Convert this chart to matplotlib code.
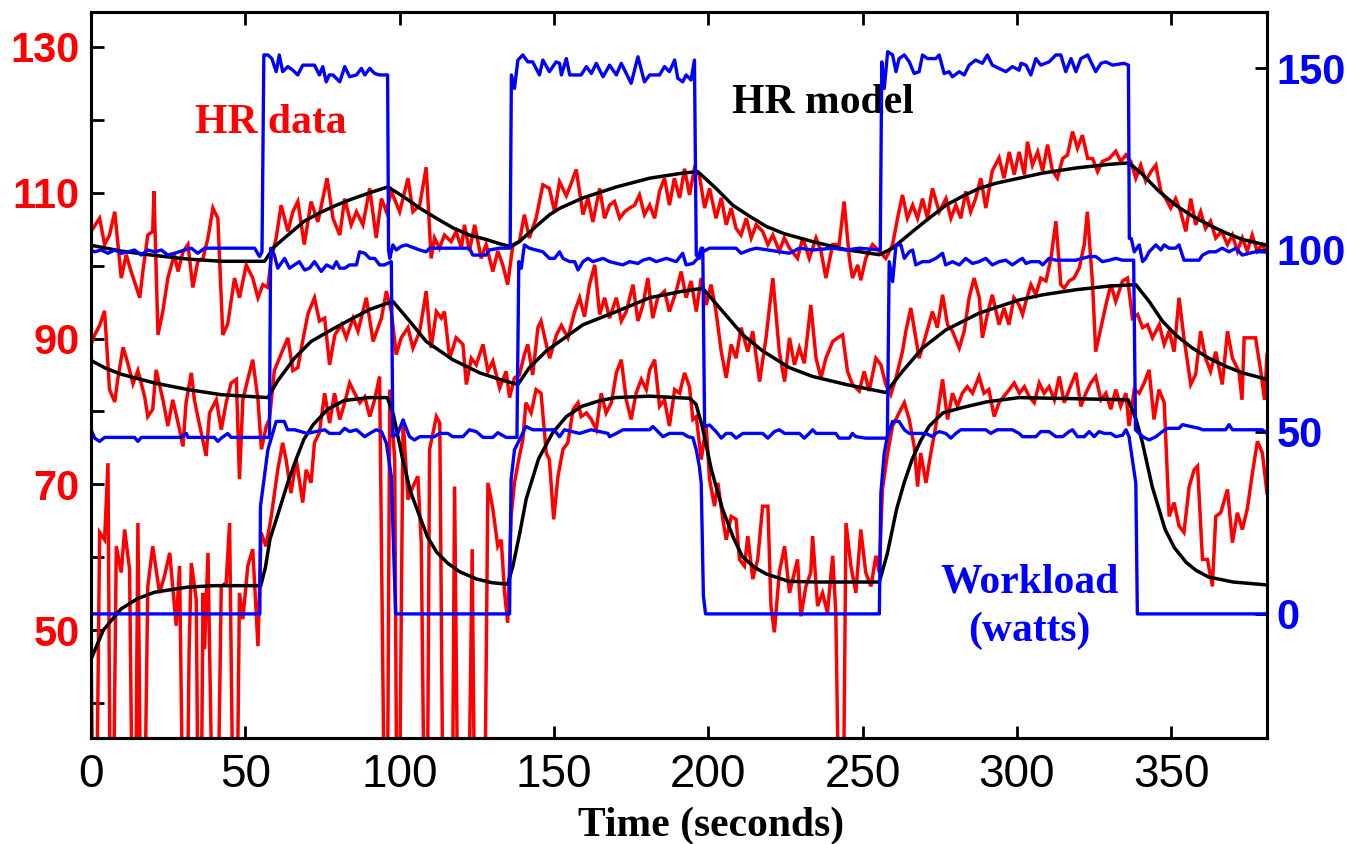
import numpy as np
import matplotlib.pyplot as plt

plt.rcParams['font.family'] = ['Liberation Sans', 'DejaVu Sans']

# ---- HR data (bpm), (time s, value) ----
hr_top = [(0, 104.7), (2.8, 106.5), (4.4, 102.9), (6, 104.2), (7.7, 107.4), (9.8, 98.3), (11.4, 101.5),
          (13, 99.2), (15.8, 95.6), (16.8, 99.2), (18.4, 104.2), (20, 104.7), (20.4, 110.2), (21.7, 90.5),
          (23.3, 93.8), (24.9, 98.3), (27, 101.5), (28.2, 99.2), (29.8, 101.9), (31.4, 102.9), (33, 97),
          (34.6, 100.6), (36.3, 101), (37.9, 103.8), (39.5, 107.9), (41.1, 106.5), (42.7, 90.5), (44.3, 92),
          (46.5, 98.3), (48.1, 95.6), (50.3, 100.1), (52.4, 98.3), (54.1, 95.6), (55.7, 97.4), (57.3, 97),
          (58.4, 101), (60, 103.8), (61.6, 108.3), (63.8, 104.7), (65.4, 107.4), (67, 108.8), (69.1, 102.9),
          (71.3, 108.8), (73.5, 106), (76.5, 112), (78.4, 106.5), (80.6, 104.2), (82.2, 109.2), (84.3, 105.6),
          (86, 107.4), (88.1, 105.6), (90.3, 110.6), (92.4, 103.8), (94.1, 109.2), (95.7, 107.4), (97.3, 110.2),
          (100, 107.4), (102.7, 112), (104.3, 107.4), (106.5, 108.3), (108.6, 113.5), (110.2, 101),
          (111.3, 103.8), (112.9, 102.4), (114.5, 104.2), (116.7, 103.3), (118.3, 104.7), (120, 102.4),
          (121, 105.6), (122.6, 102), (124.3, 105.6), (126.4, 101), (128, 102.9), (130.2, 99.2), (131.8, 102),
          (133.4, 100.1), (135, 97.4), (136.7, 102.9), (138.8, 103.3), (140.4, 107), (142, 103.8),
          (144.2, 106.5), (146.4, 111.1), (148.5, 110.6), (150.2, 107.4), (151.8, 111.5), (154, 109.6),
          (155.5, 111.2), (157.2, 113.2), (159.4, 107), (161, 109.3), (162.6, 106), (164.8, 110.6),
          (166.4, 106.5), (168, 108.3), (169.6, 108.8), (171.3, 106.5), (172.9, 107.4), (174.5, 107.9),
          (176.1, 108.3), (177.7, 109.7), (179.3, 107), (181, 108.3), (182.6, 106.5), (184.2, 110.2),
          (185.8, 112), (187.4, 108.3), (189, 112), (190.7, 109.3), (192.3, 113.3), (193.9, 109.7),
          (195.5, 113.3), (197.1, 112.4), (198.8, 107.9), (200.4, 110.6), (202.5, 106.5), (204.2, 109.3),
          (205.8, 105.6), (207.4, 107.9), (209, 105.1), (210.6, 104.2), (212.3, 106.5), (213.9, 103.8),
          (215.5, 105.6), (217.6, 104.7), (219.3, 102.9), (220.9, 104.2), (223, 102), (224.6, 103.8),
          (226.3, 102.4), (228.9, 101), (230.6, 103.8), (232.7, 101), (234.9, 103.8), (236.5, 102),
          (238.1, 98.3), (240.3, 102.9), (242.4, 102.9), (244, 108.8), (245.7, 101), (246.7, 98.3),
          (248.4, 100.1), (249.4, 98), (251, 101), (253.2, 102.9), (255.4, 102), (257.5, 101), (259.7, 102.9),
          (261.3, 106.5), (262.9, 109.7), (264.5, 106.5), (266.2, 108.3), (267.8, 106.5), (269.4, 109.2),
          (271, 106.5), (272.6, 110.6), (274.8, 107.4), (277, 109.2), (278.6, 106.5), (280.2, 108.3),
          (281.8, 106.5), (283.4, 110.2), (285, 107.4), (286.6, 109.2), (288.3, 112), (289.9, 107.9),
          (292, 113), (294.2, 114.8), (295.8, 112), (297.5, 115.6), (299.1, 112.5), (300.7, 115.6),
          (302.4, 112.5), (303.4, 117), (305, 113.8), (306.7, 115.6), (308.3, 113), (309.9, 116.6),
          (311.5, 113), (313.1, 112), (314.8, 114.7), (316.4, 115.2), (318, 118.4), (319.6, 116.1),
          (321.2, 117.9), (322.9, 114.7), (324.5, 114.7), (326.1, 112.9), (327.7, 114.3), (329.9, 114.7),
          (332, 115.7), (333.6, 114.3), (335.3, 115.2), (336.9, 114.3), (338.5, 112), (340.1, 113.8),
          (341.7, 111.6), (343.4, 112.9), (345, 113.8), (346.6, 110.2), (348.2, 109.2), (349.8, 107.9),
          (351.4, 109.2), (353, 107.4), (354.7, 104.7), (356.3, 109.2), (357.9, 105.6), (359.5, 107.4),
          (361.1, 105.1), (362.7, 106.1), (364.4, 103.8), (366.3, 104.7), (368.2, 102.9), (369.8, 104.2),
          (371.4, 102), (373, 103.8), (374.6, 102), (376.2, 104.2), (377.8, 102), (379.4, 102.9), (381, 101.7)]

hr_mid = [(0, 89.2), (1.2, 90.5), (2.8, 91.8), (4.4, 93.8), (6, 83), (7.7, 81.3), (8.7, 84.5), (10.4, 88.8),
          (12, 86.5), (13.6, 83.8), (15.2, 85.6), (17.4, 82), (18.4, 79.3), (20, 80.3), (21.1, 85.7),
          (23.3, 81.6), (24.9, 78), (26.5, 81.6), (28.7, 77.5), (29.8, 75.2), (30.8, 81.2), (32.5, 85.3),
          (33.5, 81.6), (34.6, 79.3), (37.3, 73.9), (38.4, 79.8), (40.6, 81.6), (42.2, 77.5), (43.8, 81.2),
          (45.4, 83.9), (47.1, 84.4), (48.1, 70.7), (49.2, 81.6), (50.8, 84.4), (52.4, 87.1), (54.1, 81.6),
          (55.2, 74.8), (56.8, 78), (57.8, 78.9), (59.4, 85.6), (61.6, 87.9), (63.8, 90.1), (65.4, 85.6),
          (67, 86), (68.6, 89.7), (70.3, 93.4), (72.4, 95.6), (74, 92.4), (75.7, 92.8), (77.3, 86.4),
          (79, 90.5), (81.1, 91.9), (82.7, 90.1), (84.9, 92.8), (86.5, 91), (89.2, 95.6), (91.4, 89.6),
          (93, 91.5), (94.1, 92.8), (95.7, 96.5), (97.3, 93.7), (98.9, 87.8), (100.5, 90.1), (102.7, 91.5),
          (104.3, 88.7), (106.5, 91), (108.6, 96.5), (110.2, 88.7), (111.9, 93.7), (113.5, 92.8),
          (114.5, 93.7), (116.2, 87.3), (118.3, 90.1), (120.5, 89.2), (121.6, 83.7), (123.2, 87.3),
          (124.8, 86.4), (127, 89.2), (128.6, 85.5), (130.2, 86.9), (132.4, 83.2), (134.5, 85.5),
          (135.6, 81.9), (137.2, 84.6), (138.8, 85), (140.4, 87.8), (141.5, 89.2), (143.1, 85), (144.8, 91.5),
          (145.8, 92.4), (147.5, 89.2), (148.6, 87.3), (150.8, 90.5), (152.4, 91.8), (154.5, 90.1),
          (156.7, 93.7), (158.3, 95.6), (159.9, 93), (161.5, 97.4), (163.2, 100.1), (164.8, 93.3),
          (166.4, 95.6), (168, 92.8), (170.2, 95.6), (171.8, 92.4), (173.4, 93.7), (175.6, 97.4),
          (177.2, 92.4), (178.8, 94.6), (180.4, 98.3), (182, 92.8), (183.6, 95.6), (185.8, 96.5),
          (187.4, 93.7), (189.6, 96.5), (191.2, 99.2), (192.8, 95.6), (194.4, 97.9), (196.1, 93.7),
          (197.7, 98.3), (199.3, 94.6), (200.9, 97.4), (202.5, 93.7), (204.2, 88.2), (205.8, 84.6),
          (207.4, 89.2), (209, 87.3), (210.6, 91.5), (212.8, 88.2), (214.4, 91), (216.6, 84.1), (218.7, 90.1),
          (220.9, 98.3), (223, 88.2), (224.7, 84.1), (226.3, 90.1), (227.9, 86.4), (229.5, 88.7),
          (231.1, 86.6), (233.2, 94.6), (234.9, 87.3), (236.5, 84.6), (238.1, 87.3), (240.3, 89.6),
          (241.9, 90.1), (243.5, 90.5), (245.1, 85.5), (246.7, 83.7), (248.9, 82.8), (250.5, 85.5),
          (252.1, 82.8), (254.3, 87.3), (255.9, 86.4), (257.5, 83.7), (259.1, 82.3), (260.8, 84.6),
          (262.9, 88.2), (264, 91), (265.6, 94.2), (267.2, 90.1), (268.3, 87.3), (270.5, 90.5), (272.6, 93.7),
          (274.2, 91.5), (275.9, 96), (277.5, 91.9), (279.1, 91), (281.3, 88.7), (282.9, 91), (284.5, 95.6),
          (286.1, 98.3), (287.8, 95.6), (288.8, 90.1), (290.4, 93.3), (292, 96), (294.2, 91.9), (295.8, 94.2),
          (297.4, 91.9), (299, 95.6), (300.7, 94.6), (301.8, 93.3), (302.9, 95.1), (304.5, 97.4), (306.1, 96),
          (307.7, 98.3), (309.4, 97.9), (311, 101), (312.6, 106.1), (314.2, 97.4), (315.3, 96.9),
          (316.9, 97.9), (318.5, 98.3), (320.2, 99.7), (321.8, 102.9), (322.8, 107.4), (324.5, 97.4),
          (325.5, 88.2), (327.2, 91.5), (328.8, 94.6), (330.4, 97.4), (332, 95.1), (334.2, 97.9),
          (335.8, 98.3), (337.4, 92.8), (339.1, 93.3), (340.7, 91.5), (342.3, 91.9), (343.9, 90.1),
          (346.1, 91.9), (347.7, 89.2), (349.3, 91), (350.9, 88.2), (352.5, 95.6), (354.1, 90.1),
          (356.3, 83.7), (357.9, 85.1), (359.5, 91), (361.1, 87.3), (362.7, 85.5), (364.4, 88.2),
          (366.5, 83.7), (368.2, 91), (369.8, 87.3), (371.9, 85.5), (372.9, 81.6), (373.6, 90.1),
          (375.7, 90.1), (377.3, 90.1), (379, 85.5), (380.2, 81.6), (381, 87.8)]

hr_bot = [(0, 48.7), (1.2, 0), (2.8, 63.4), (4.4, 62.4), (5.5, 72.9), (6.6, 0), (8.2, 61.5), (9.8, 57.9),
          (10.9, 63.8), (12.5, 58.3), (14, 0), (15.2, 64.7), (16.6, 0), (18.4, 56), (20, 61.5), (22.2, 55.1),
          (23.8, 57.4), (25.5, 60.6), (27.6, 50.6), (28.7, 58.8), (30.5, 0), (31.8, 47.4), (32.5, 59.2),
          (34.1, 54.2), (35.2, 0), (36.3, 55.1), (36.8, 47.4), (37.9, 60.6), (40.3, 0), (42.2, 56),
          (43.8, 56.5), (44.9, 64.7), (46.7, 0), (48.1, 55.1), (49.2, 51.5), (50.8, 58.8), (52.4, 61.1),
          (54.1, 47.8), (55.1, 63.4), (56.7, 61.5), (58.4, 65.6), (60.5, 72), (62.1, 75.7), (63.2, 73.4),
          (64.8, 68.8), (66.5, 73.4), (68.6, 67.5), (69.7, 72), (71.3, 70.2), (72.4, 75.7), (74, 77.1),
          (75.7, 82.5), (77.3, 78.4), (78.9, 82.5), (80.6, 78.9), (82.2, 81.2), (83.8, 83.9), (85.4, 82.5),
          (87.1, 81.2), (88.7, 82), (90.3, 79.3), (91.9, 81.6), (93.5, 84.8), (95.7, 0), (96.8, 83),
          (98.4, 73.4), (99.4, 0), (101.1, 78.9), (102.7, 67.9), (104.3, 69.7), (105.9, 71.1), (107, 62),
          (108.6, 0), (109.7, 74.8), (111.9, 79.3), (113, 78.4), (114.5, 0), (116.7, 0), (117.8, 69.7),
          (119.4, 0), (121.6, 0), (123.5, 61.1), (124.8, 0), (127, 0), (128.6, 70.2), (130.2, 66.6),
          (131.8, 61.5), (132.9, 62.4), (134, 55.1), (135, 51), (136.1, 65.6), (137.2, 70.2), (138.8, 73.9),
          (139.9, 76.1), (140.9, 81.2), (142.6, 79.8), (144.2, 83), (145.8, 82.5), (147.5, 74.3),
          (148.5, 73.4), (149.9, 65.2), (151.3, 71.1), (152.9, 74.8), (154.5, 75.7), (156.2, 80.3),
          (157.8, 81.2), (158.8, 79.3), (160.5, 79.8), (162.1, 78.9), (163.7, 77.5), (165.3, 82.5),
          (166.9, 79.8), (168.6, 81.2), (170.2, 85.3), (171.8, 87.1), (173.4, 81.6), (175, 78.9),
          (176.6, 82.5), (178.3, 84.4), (179.9, 83), (181, 85.7), (182.6, 87.1), (184.2, 80.7), (185.8, 81.6),
          (187.4, 78), (189.1, 83), (190.7, 82.5), (192.3, 85.3), (193.9, 83.4), (195, 78.9), (196.1, 79.3),
          (197.7, 73.4), (199.3, 78), (200.4, 70.7), (202, 67), (203.1, 70.2), (204.7, 65.2), (205.8, 62.4),
          (207.4, 65.6), (209, 65.2), (210.1, 59.7), (211.7, 58.8), (212.8, 62.9), (214.4, 57), (216, 59.7),
          (217.6, 67), (219.3, 67), (220.3, 53.3), (221.4, 49.7), (223, 57.9), (224.7, 61.5), (226.3, 55.1),
          (228.9, 59.7), (230, 51.9), (231.6, 56), (233.2, 57.9), (233.8, 62.9), (235.4, 53.3), (237, 55.1),
          (238.6, 52.4), (240.3, 60.2), (241.3, 52.4), (243.2, 0), (244.6, 64.7), (246.2, 58.8),
          (247.8, 55.1), (249.4, 63.8), (251, 57.9), (252.7, 56), (254.3, 60.2), (255.4, 57.9), (256.4, 69.3),
          (258.1, 74.3), (259.7, 78), (261.8, 79.8), (263.5, 81.2), (265.1, 78.9), (266.7, 75.2),
          (267.8, 69.7), (268.8, 74.3), (270.5, 70.2), (272.1, 74.3), (273.7, 78), (275.9, 84.4),
          (277.5, 78.9), (279.1, 82.5), (280.7, 80.7), (282.3, 82.5), (283.9, 83.4), (285.6, 82.5),
          (287.7, 84.8), (289.3, 82.5), (290.9, 83), (292.6, 79.3), (294.2, 81.2), (295.8, 82.1), (297.5, 83),
          (299.1, 83.9), (300.8, 82.5), (302.4, 83.4), (304, 82), (305.6, 81.2), (307.2, 83.9), (308.8, 82.5),
          (310.4, 83.4), (312.1, 81.6), (313.7, 84.8), (315.3, 81.2), (316.9, 83), (319.1, 85.3),
          (320.7, 80.7), (322.3, 82.5), (323.9, 83.9), (325.5, 84.8), (327.2, 81.6), (328.8, 82.5),
          (330.4, 80.3), (332, 83), (333.6, 80.7), (335.3, 82.5), (336.3, 78), (338, 83), (339.6, 82.5),
          (341.2, 83.9), (342.8, 85.7), (344.4, 78.9), (346, 83), (347.7, 81.2), (349.3, 65.6), (350.9, 67.5),
          (352.5, 64.3), (354.1, 63.4), (355.8, 69.7), (357.4, 72), (358.5, 72.5), (360.1, 59.7),
          (361.7, 59.7), (363.3, 56), (364.4, 65.6), (366, 66.1), (368.2, 69.3), (369.8, 62), (371.4, 66.1),
          (373, 63.8), (374.6, 66.6), (376.3, 71.6), (377.9, 75.9), (379.5, 74.3), (381, 68.8)]

# ---- HR model (bpm) ----
model_top_t = [0, 9.8, 20.6, 31.4, 42.2, 56.2, 59.4, 63.8, 69.1, 74.3, 79.5, 84.9, 90.3, 96.2, 101.1, 106.5,
               111.9, 117.2, 122.6, 128, 132.4, 136.1, 138.8, 144.2, 148.6, 152, 159.4, 170.2, 181, 191.7,
               196.6, 202.5, 207.9, 213.3, 218.7, 224.5, 233.8, 244.6, 255.4, 259.7, 266.2, 271.5, 277, 282.3,
               287.7, 293.1, 300.7, 308.3, 319.1, 329.9, 336.3, 340.7, 346, 351.4, 356.8, 362.2, 367.6, 373, 381]
model_top = [102.8, 102.0, 101.4, 100.9, 100.6, 100.6, 102.6, 104.2, 106.1, 107.3, 108.3, 109.2, 110.0, 110.8,
             109.5, 107.9, 106.5, 105.2, 104.2, 103.6, 103.0, 102.6, 103.3, 105.4, 107.0, 107.9, 109.3, 110.8,
             112.0, 112.7, 112.9, 110.6, 108.3, 106.8, 105.4, 104.4, 103.3, 102.2, 101.5, 102.4, 104.7, 106.5,
             108.3, 109.5, 110.6, 111.3, 112.0, 112.7, 113.4, 113.9, 114.1, 112.5, 110.2, 108.3, 106.8, 105.6,
             104.5, 103.6, 102.8]

model_mid_t = [0, 4.4, 9.8, 20.6, 31.4, 42.2, 57.3, 60.5, 65.9, 71.3, 78.3, 84.9, 90.3, 97.8, 103.2, 108.6,
               117.2, 125.9, 132.4, 138.3, 142, 147.5, 159.4, 170.2, 181, 191.7, 198.2, 204.7, 211.2, 217.6,
               226.3, 233.8, 244.6, 257.5, 262.9, 269.4, 277, 287.8, 300.7, 308.3, 319.1, 329.9, 338.5, 342.8,
               347.1, 351.4, 356.8, 362.2, 367.6, 373, 381]
model_mid = [87.0, 86.0, 85.1, 83.9, 83.0, 82.3, 81.9, 84.2, 87.3, 89.6, 91.3, 92.8, 94.0, 95.1, 92.4, 89.6,
             87.1, 85.3, 84.4, 83.7, 86.0, 88.3, 91.9, 93.7, 95.6, 96.5, 96.9, 93.7, 90.5, 88.3, 86.0, 84.8,
             83.7, 82.6, 85.5, 88.7, 91.2, 93.5, 95.3, 96.0, 96.7, 97.2, 97.4, 95.1, 92.4, 90.5, 88.7, 87.3,
             86.2, 85.3, 84.4]

model_bot_t = [0, 4, 9.7, 15, 20.6, 31.4, 40, 55, 56.5, 58, 61, 63.8, 66.5, 69, 72, 76.7, 82, 90, 96, 98, 101,
               103.5, 106.5, 109, 112, 115.5, 119.5, 125, 130, 135, 136.7, 139, 141, 145, 149.6, 154, 159, 165,
               170, 181, 194, 196, 198, 201, 204.6, 208, 211, 215, 218.8, 226, 235, 255.4, 258, 261, 263.5, 266,
               268.8, 271.6, 276, 282, 290, 300.7, 336, 338.5, 340.6, 343.8, 348, 351, 354.8, 358, 362, 370, 381]
model_bot = [46.0, 50.0, 52.9, 54.3, 55.2, 55.9, 56.1, 56.1, 58.6, 62.5, 66.5, 70.3, 73.5, 76.2, 78.2, 80.3,
             81.5, 81.9, 81.9, 79.5, 73.4, 69.0, 65.6, 62.8, 60.7, 59.2, 58.0, 57.0, 56.5, 56.3, 58.8, 63.5,
             68.0, 73.5, 77.1, 79.3, 80.7, 81.5, 81.9, 82.1, 81.8, 81.0, 78.0, 72.0, 66.6, 62.8, 60.1, 58.6,
             57.7, 56.7, 56.6, 56.6, 60.5, 66.6, 70.3, 73.4, 76.0, 78.0, 79.8, 80.5, 81.3, 81.9, 81.6, 79.0,
             75.8, 69.7, 63.8, 61.3, 59.3, 58.2, 57.3, 56.6, 56.2]

# ---- workload (watts), (time s, value) ----
w_top = [(0, 100.0), (1.2, 99.5), (3.3, 100), (5.5, 99.1), (7.7, 100), (9.8, 99.1), (12, 99.5), (14.1, 100),
         (16.3, 98.6), (18.4, 100), (20.6, 99.5), (22.8, 100), (24.9, 98.6), (27.1, 99.1), (30.3, 100),
         (32.5, 100.5), (34.6, 99.1), (36.8, 100.5), (45.4, 100.5), (53, 100.5), (54.6, 98.2), (55.4, 99.5),
         (56, 153.6), (57.3, 153.6), (58.6, 152.6), (60, 149), (61, 153.6), (62.1, 149), (63.8, 150.4),
         (65.4, 149.4), (67, 148.1), (68.6, 150.8), (72.4, 150.8), (74, 148.1), (75.1, 150.4), (76.2, 146.2),
         (77.2, 148.1), (78.4, 148.1), (80.6, 146.2), (82.2, 150.4), (83.8, 147.6), (86, 148.1),
         (87.6, 149.9), (88.7, 148.1), (90.3, 149.9), (91.9, 148.5), (93.5, 148.1), (96.1, 148.1),
         (96.4, 100), (96.8, 97.7), (97.8, 101.4), (98.9, 100), (100.5, 101), (102.1, 101.4), (106.5, 100),
         (108.6, 99.5), (109.7, 100.5), (122.6, 100.5), (123.7, 98.6), (128, 98.6), (129.1, 100),
         (132.4, 100.5), (135.8, 100.5), (136.2, 148.1), (137.2, 144.4), (138.3, 152.2), (139.9, 153.6),
         (141.5, 151.7), (143.1, 151.7), (145.3, 148.1), (146.4, 152.2), (148.5, 149), (150.7, 151.7),
         (151.8, 151.3), (152.4, 148.1), (154, 152.6), (155.1, 148.1), (158.8, 148.1), (160.5, 150.4),
         (162.1, 148.5), (163.7, 151.3), (165.9, 147.6), (168, 150.8), (170.2, 148.1), (171.8, 151.3),
         (175, 145.8), (177.2, 153.1), (179.3, 146.2), (181, 148.1), (184.2, 148.1), (185.8, 150.4),
         (187.4, 149), (189.1, 152.2), (190.1, 147.2), (191.7, 146.2), (192.8, 148.1), (194.4, 146.7),
         (195.5, 152.2), (196.1, 98.6), (197.1, 97.7), (198.2, 99.5), (200.4, 100.5), (209, 100.5),
         (210.6, 99.1), (213.3, 100), (215.5, 100.5), (226.3, 99.1), (229.5, 100.5), (233.8, 100),
         (240.3, 100.5), (244.6, 100), (248.9, 100.5), (255.7, 100), (256.2, 151.7), (257, 144.4),
         (258.1, 154.5), (259.7, 153.6), (260.8, 149), (261.8, 152.6), (263.5, 153.6), (265.1, 151.7),
         (266.7, 148.5), (268.3, 149), (269.4, 153.6), (271, 152.6), (273.7, 152.6), (274.8, 153.6),
         (276.4, 148.5), (278, 149), (279.1, 147.6), (281.3, 149), (282.9, 148.1), (284.5, 150.8),
         (286.6, 152.2), (288.8, 151.3), (290.4, 153.6), (292, 150.8), (294.2, 149.9), (296.4, 149),
         (298.5, 150.4), (300.7, 149.4), (301.3, 151.3), (302.9, 150.8), (304.5, 148.1), (306.1, 152.6),
         (307.7, 150.8), (310.4, 151.7), (312.6, 153.6), (314.2, 153.6), (315.8, 149), (317.5, 152.6),
         (319.1, 149), (320.7, 152.6), (322.9, 153.6), (325.5, 149), (327.2, 151.3), (328.8, 151.7),
         (331, 150.8), (334.7, 151.3), (336.1, 150.8), (336.4, 103.2), (337, 103.2), (338, 99.5),
         (339.6, 101.4), (340.7, 96.8), (341.7, 97.7), (342.8, 99.5), (345, 101.4), (346.6, 100),
         (347.7, 101.4), (349.3, 100.5), (351.4, 100.5), (352.5, 101.4), (354.1, 97.2), (359, 97.2),
         (360.1, 98.6), (362.2, 99.5), (364.4, 99.5), (366.5, 100.5), (368.7, 99.5), (370.9, 100.5),
         (373, 98.6), (375.2, 99.1), (377.3, 99.5), (381, 99.5)]

w_mid = [(0, 50.6), (1.2, 48.3), (2.8, 47.4), (4.4, 48.5), (14.1, 48.5), (15.2, 47.4), (16.3, 48.5),
         (29.2, 48.5), (30.9, 49.6), (31.4, 48.5), (40, 48.5), (41.1, 47.4), (42.2, 48.3), (43.3, 49),
         (44.3, 49.6), (45.4, 48.5), (57.8, 48.5), (58.2, 100.5), (59.4, 98.6), (60.5, 95), (62.7, 97.7),
         (64.3, 95), (65.9, 95.9), (67.5, 96.8), (69.2, 94.5), (70.8, 95), (72.4, 96.8), (74.6, 94.1),
         (76.3, 95.9), (78.4, 95), (79.5, 96.8), (80.6, 95), (82.2, 95), (83.8, 95.9), (86, 95.9), (87, 99.5),
         (88.7, 99.1), (90.3, 97.7), (91.9, 97.7), (93.5, 95.9), (95.1, 95.9), (97.3, 96.8), (97.8, 48.7),
         (99.4, 49.6), (101.1, 53.3), (103.2, 48.7), (104.8, 47.8), (106.5, 48.7), (111.3, 48.7),
         (112.9, 49.6), (115.6, 49.6), (117.2, 48.7), (120.5, 48.7), (122.6, 50.6), (124.8, 50.1),
         (127, 48.5), (130.2, 48.5), (131.8, 49.8), (134.5, 48.5), (138, 48.5), (138.6, 96.8), (139.4, 95),
         (140.4, 101.4), (142, 100.5), (144.2, 100), (146.4, 99.5), (148.5, 97.7), (150.2, 97.7),
         (151.8, 99.5), (152.9, 97.7), (155.1, 96.8), (156.7, 96.8), (157.8, 94.5), (159.4, 96.8),
         (161, 97.7), (162.6, 96.8), (165.9, 97.7), (168, 96.8), (172.3, 95.9), (174.5, 96.8), (177.2, 96.3),
         (178.8, 97.2), (181, 97.7), (183.1, 96.8), (186.4, 97.7), (189.6, 96.8), (191.7, 99.1),
         (192.8, 95.9), (195, 96.3), (196.6, 97.7), (197.7, 100.5), (198.2, 100.5), (198.8, 51.5),
         (200.4, 51.9), (202.5, 50.1), (204.2, 48.3), (205.8, 49.6), (207.4, 49.6), (209, 48.3),
         (211.2, 49.6), (217.6, 49.6), (219.3, 48.3), (221.4, 50.1), (223, 50.6), (224.7, 49.6),
         (229.5, 49.6), (231.1, 48.3), (232.7, 49.6), (233.8, 50.6), (234.9, 49.6), (241.3, 49.6),
         (242.4, 48.3), (245.7, 48.3), (246.7, 49.6), (247.8, 48.7), (251, 48.3), (258, 48.3), (258.6, 96.8),
         (259.7, 91.3), (260.8, 101.4), (262.4, 101.4), (263.5, 97.7), (265.1, 99.5), (266.2, 100),
         (267.2, 95.9), (269.4, 96.8), (271.5, 96.8), (273.7, 97.7), (275.9, 99.1), (276.9, 95.9),
         (279.1, 96.8), (281.3, 95.9), (283.4, 97.7), (285.6, 96.3), (287.7, 96.8), (289.9, 97.7), (292, 95.9),
         (294.2, 96.8), (296.4, 97.2), (298.5, 95.9), (300.7, 97.2), (301.8, 97.7), (302.9, 96.3),
         (304.5, 96.8), (307.2, 96.8), (308.3, 95.9), (310.4, 97.7), (312.6, 97.2), (319.1, 97.2),
         (321.2, 97.7), (323.4, 98.2), (325.5, 98.2), (327.7, 96.8), (329.9, 97.2), (332, 97.7),
         (334.2, 97.2), (337.8, 97.2), (338.4, 50.6), (340.7, 48.7), (342.8, 47.8), (345, 48.7),
         (347.1, 50.1), (348.7, 51), (352.5, 51), (353.6, 52), (359, 51), (360.1, 50.6), (367.6, 50.6),
         (368.7, 52), (369.8, 50.6), (379.5, 50.6), (381, 49.6)]

w_bot = [(0, 0), (54.7, 0), (54.9, 29.5), (57.3, 45.1), (60, 52.9), (62.6, 52.9), (63.7, 50.6), (66, 50.6),
         (70, 49.6), (75.7, 50.6), (77.3, 49.6), (80.6, 49.6), (82.2, 51), (83.8, 50.1), (86, 50.6),
         (88.7, 48.7), (90.3, 49.6), (92.4, 50.6), (94.1, 50.1), (95.7, 46.9), (97.3, 37.7), (98.7, 0),
         (135.6, 0), (136.1, 36.8), (137.2, 45.1), (138.8, 47.8), (140.9, 51.5), (143.1, 50.6), (150, 50.6),
         (151.8, 48.7), (153.4, 50.6), (158.3, 49.6), (162, 50.6), (167.5, 49.6), (168, 48.7), (170.2, 49.6),
         (172.3, 50.6), (181, 50.6), (182, 51.5), (183.1, 50.6), (185.3, 48.7), (187.4, 49.6), (191.7, 49.6),
         (193.4, 48.7), (195, 48.4), (196.1, 45.1), (197.1, 40.5), (197.7, 35.9), (198.4, 5), (199.1, 0),
         (255.4, 0), (255.9, 33.2), (257, 44.2), (258, 48.7), (259.7, 52.9), (261.8, 52.9), (263.5, 50.6),
         (265.1, 49.6), (270.5, 49.6), (272.6, 48.7), (273.7, 49.6), (274.8, 50.1), (276.9, 49.6),
         (278.6, 48.3), (280.2, 49.6), (281.8, 50.6), (289.9, 50.6), (291.5, 49.6), (293.6, 50.6),
         (298.5, 50.6), (300.7, 49.6), (301.8, 48.7), (306.1, 48.7), (307.7, 50.1), (310.4, 50.1),
         (312.6, 48.7), (314.8, 48.7), (316.9, 50.1), (318, 50.6), (319.6, 48.7), (321.8, 48.7),
         (323.4, 50.1), (325, 48.7), (326.6, 50.1), (328.3, 49.6), (330.4, 49.6), (332, 48.7), (334.2, 49.1),
         (335.3, 50.6), (336.3, 48.7), (337.4, 42.3), (338.5, 35.9), (339, 0), (381, 0)]

x_ticks = [0, 50, 100, 150, 200, 250, 300, 350]
hr_ticks = [40, 50, 60, 70, 80, 90, 100, 110, 120, 130]
hr_labels = ['', '50', '', '70', '', '90', '', '110', '', '130']
w_ticks = [0, 50, 100, 150]


def unzip(pairs):
    t, v = zip(*pairs)
    return np.array(t), np.array(v)


fig = plt.figure(figsize=(13.48, 8.44), dpi=100)
ax = fig.add_axes([91 / 1348, 106 / 844, 1176 / 1348, 726 / 844])
ax2 = ax.twinx()

for series in (hr_top, hr_mid, hr_bot):
    t, v = unzip(series)
    ax.plot(t, v, color='#ff0000', lw=2.5, solid_joinstyle='miter')
for t, v in ((model_top_t, model_top), (model_mid_t, model_mid), (model_bot_t, model_bot)):
    ax.plot(t, v, color='black', lw=2.5)
for series in (w_top, w_mid, w_bot):
    t, v = unzip(series)
    ax2.plot(t, v, color='#0000ff', lw=2.4)

ax.set_xlim(0, 381)
ax.set_ylim(35.2, 134.8)
ax2.set_ylim(-34.1, 165.4)

ax.set_xticks(x_ticks)
ax.set_yticks(hr_ticks)
ax.set_yticklabels(hr_labels)
ax2.set_yticks(w_ticks)

ax.tick_params(axis='x', direction='in', top=True, length=9, width=2, labelsize=33, pad=11)
ax.tick_params(axis='y', direction='in', length=9, width=2, labelsize=30, pad=8, labelcolor='#ff0000')
ax2.tick_params(axis='y', direction='in', length=9, width=2, labelsize=30, pad=7, labelcolor='#0000ff')
for lbl in ax.get_yticklabels() + ax2.get_yticklabels():
    lbl.set_fontweight('bold')

for a in (ax, ax2):
    for sp in a.spines.values():
        sp.set_linewidth(2.2)

serif = ['Liberation Serif', 'DejaVu Serif']
ax.text(58.3, 119.6, 'HR data', color='#ff0000', fontsize=30, fontweight='bold', family=serif,
        ha='center', va='center')
ax.text(237, 122.3, 'HR model', color='black', fontsize=30, fontweight='bold', family=serif,
        ha='center', va='center')
ax.text(304, 53.2, 'Workload\n(watts)', color='#0000ff', fontsize=30, fontweight='bold', family=serif,
        ha='center', va='center', linespacing=1.32)
fig.text(711 / 1348, 1 - 826 / 844, 'Time (seconds)', fontsize=30, fontweight='bold', family=serif,
         ha='center', va='center')

fig.savefig('out.png', dpi=100)
